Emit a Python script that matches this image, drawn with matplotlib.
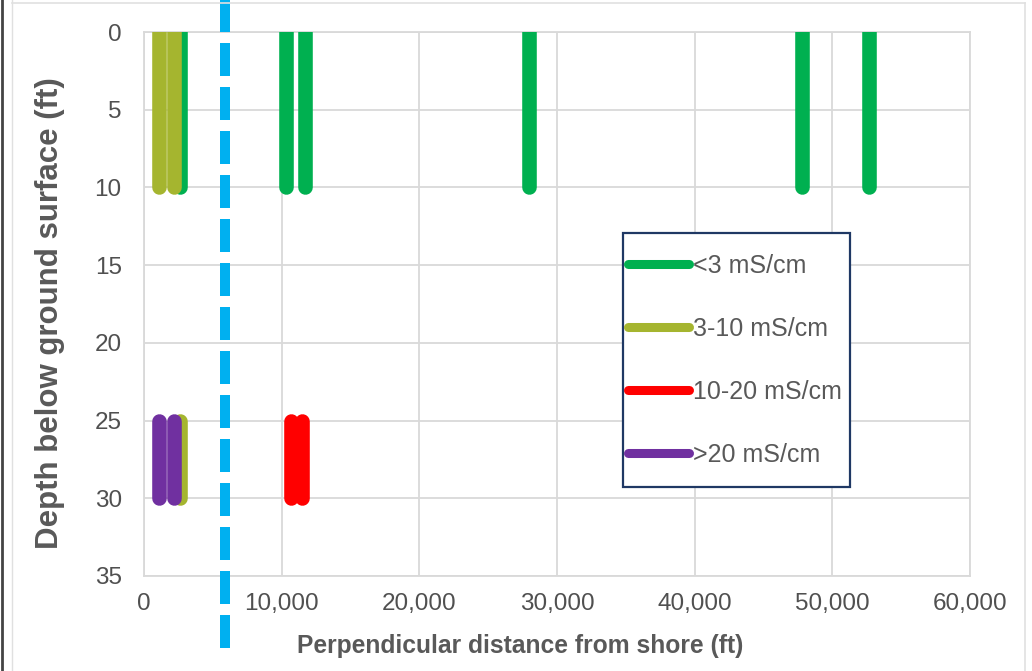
import numpy as np
import matplotlib.pyplot as plt
from matplotlib.patches import Rectangle
from matplotlib.lines import Line2D

plt.rcParams['font.family'] = ['Liberation Sans', 'DejaVu Sans']

# conductivity classes, legend order
labels = ['<3 mS/cm', '3-10 mS/cm', '10-20 mS/cm', '>20 mS/cm']
colors = ['#00B050', '#A5B52F', '#FF0000', '#7030A0']

# distance from shore (ft) of each sampled interval, shallow (0-10 ft) and deep (25-30 ft)
shallow_x = [[2600, 10300, 11700, 28000, 47800, 52700], [1100, 2200], [], []]
deep_x = [[], [2600], [10700, 11500], [1100, 2200]]
shallow_depth = [0, 10]
deep_depth = [25, 30]

shore_x = 5900

xticks = [0, 10000, 20000, 30000, 40000, 50000, 60000]
yticks = [0, 5, 10, 15, 20, 25, 30, 35]

fig = plt.figure(figsize=(10.32, 6.71), dpi=100)
ax = fig.add_axes([0.1395, 0.1416, 0.8004, 0.8107])

lw = 10.5
for i in range(len(labels)):
    for x in shallow_x[i]:
        ax.plot([x, x], shallow_depth, color=colors[i], lw=lw, solid_capstyle='round', zorder=3)
    for x in deep_x[i]:
        ax.plot([x, x], deep_depth, color=colors[i], lw=lw, solid_capstyle='round', zorder=3)

ax.axvline(shore_x, ymin=-0.132, ymax=1.06, clip_on=False, color='#00B0F0', lw=7.2,
           ls=(0, (3.3, 1.1)), dash_capstyle='butt', zorder=5)

ax.set_xlim(0, 60000)
ax.set_ylim(35, 0)
ax.set_xticks(xticks)
ax.set_yticks(yticks)
ax.set_xticklabels([f'{t:,}' for t in xticks])
ax.grid(True, color='#D9D9D9', lw=1.3)
ax.set_axisbelow(True)
for s in ax.spines.values():
    s.set_color('#D9D9D9')
    s.set_linewidth(1.3)
ax.tick_params(length=0, labelsize=17.5, labelcolor='#505050')
ax.tick_params(axis='x', pad=12)
ax.tick_params(axis='y', pad=16)

ax.set_xlabel('Perpendicular distance from shore (ft)', fontsize=17.7, fontweight='bold',
              color='#595959')
ax.xaxis.set_label_coords(0.456, -0.107)
ax.set_ylabel('Depth below ground surface (ft)', fontsize=22.5, fontweight='bold',
              color='#595959')
ax.yaxis.label.set_va('center')
ax.yaxis.set_label_coords(-0.1138, 0.4835)

# legend box
ax.add_patch(Rectangle((0.580, 0.164), 0.275, 0.466, transform=ax.transAxes, facecolor='white',
                       edgecolor='#1F3864', lw=1.6, zorder=6, clip_on=False))
handles = [Line2D([0], [0], color=c, lw=6.5, solid_capstyle='round') for c in colors]
leg = ax.legend(handles, labels, loc='center left', bbox_to_anchor=(0.586, 0.397),
                frameon=False, fontsize=18, labelspacing=1.56, handlelength=2.45,
                handletextpad=0.15, borderpad=0, borderaxespad=0)
for t in leg.get_texts():
    t.set_color('#595959')
leg.set_zorder(7)

# chart-area border
fig.add_artist(Line2D([0.002, 0.002], [0, 1], color='#444444', lw=2))
fig.add_artist(Line2D([0.012, 0.012], [0, 1], color='#E0E0E0', lw=1))
fig.add_artist(Line2D([0.012, 0.993], [0.996, 0.996], color='#E0E0E0', lw=1.2))
fig.add_artist(Line2D([0.993, 0.993], [0, 0.996], color='#E0E0E0', lw=1.2))

fig.savefig('out.png', dpi=100)
